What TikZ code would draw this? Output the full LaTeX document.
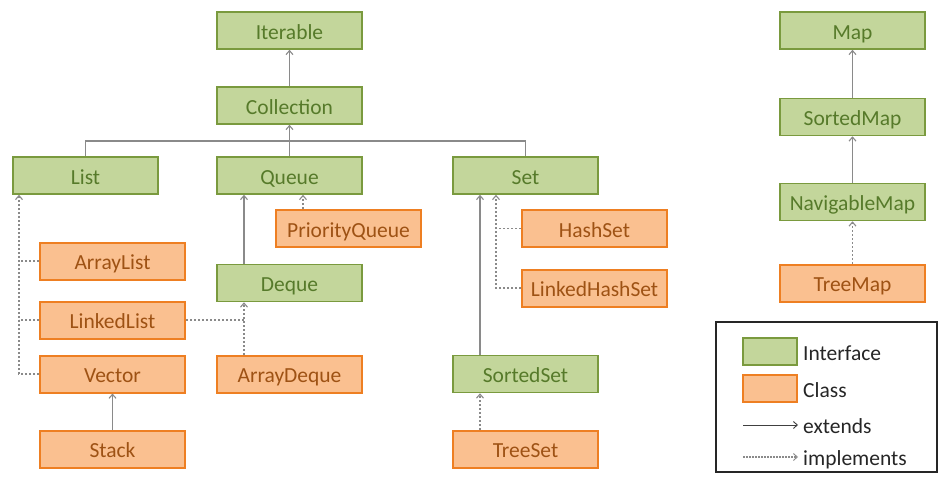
\documentclass[tikz,border=0pt]{standalone}
\usepackage{fontspec}
\setmainfont{Carlito}
\usetikzlibrary{arrows.meta}
\definecolor{ifill}{HTML}{C3D69B}
\definecolor{idraw}{HTML}{7A9A3E}
\definecolor{itext}{HTML}{567A2A}
\definecolor{cfill}{HTML}{FAC090}
\definecolor{cdraw}{HTML}{EE7F22}
\definecolor{ctext}{HTML}{9E5214}
\definecolor{lgray}{HTML}{8A8A8A}
\tikzset{
  base/.style={rectangle, minimum width=145pt, minimum height=37pt, inner sep=0pt,
    text height=18.5pt, text depth=1.5pt,
    font=\fontsize{21.5}{25}\selectfont},
  iface/.style={base, fill=ifill, draw=idraw, line width=1.6pt, text=itext},
  cls/.style={base, fill=cfill, draw=cdraw, line width=2pt, text=ctext},
  ext/.style={draw=lgray, line width=1.4pt, -{Straight Barb[length=4pt,width=7pt,line width=1.1pt]}},
  impl/.style={draw=lgray, line width=1.4pt, dash pattern=on 2pt off 2pt, -{Straight Barb[length=4pt,width=7pt,line width=1.1pt]}},
  plain/.style={draw=lgray, line width=1.4pt},
  implplain/.style={draw=lgray, line width=1.4pt, dash pattern=on 2pt off 2pt},
  legtext/.style={anchor=west, inner sep=0pt, text height=18.5pt, text depth=1.5pt,
    font=\fontsize{21.5}{25}\selectfont, text=black!85},
  legbox/.style={rectangle, minimum width=54pt, minimum height=27pt, inner sep=0pt}
}
\begin{document}
\begin{tikzpicture}[x=1pt,y=-1pt]
\useasboundingbox (0,0) rectangle (952,477);
\fill[white] (0,0) rectangle (952,477);
% nodes
\node[iface] (Iterable) at (289.5,30.5) {Iterable};
\node[iface] (Collection) at (289.5,105.5) {Collection};
\node[iface] (List) at (85.5,175.5) {List};
\node[iface] (Queue) at (289.5,175.5) {Queue};
\node[iface] (Set) at (525.5,175.5) {Set};
\node[cls] (PriorityQueue) at (348.5,228.5) {PriorityQueue};
\node[cls] (ArrayList) at (112.5,261) {ArrayList};
\node[iface] (Deque) at (289.5,283) {Deque};
\node[cls] (LinkedList) at (112.5,320) {LinkedList};
\node[cls] (Vector) at (112.5,374) {Vector};
\node[cls] (ArrayDeque) at (289.5,374) {ArrayDeque};
\node[cls] (Stack) at (112.5,449) {Stack};
\node[cls] (HashSet) at (594.5,228.5) {HashSet};
\node[cls] (LinkedHashSet) at (594.5,288) {LinkedHashSet};
\node[iface] (SortedSet) at (525.5,374) {SortedSet};
\node[cls] (TreeSet) at (525.5,449) {TreeSet};
\node[iface] (Map) at (852.5,30.5) {Map};
\node[iface] (SortedMap) at (852.5,117) {SortedMap};
\node[iface] (NavigableMap) at (852.5,202) {NavigableMap};
\node[cls] (TreeMap) at (852.5,283) {TreeMap};
% helper coordinates
\coordinate (bus) at (289.5,141);
\coordinate (pqtop) at ([xshift=-45.5pt]PriorityQueue.north);
\coordinate (dqtop) at ([xshift=-45.5pt]Deque.north);
\coordinate (adqtop) at ([xshift=-45.5pt]ArrayDeque.north);
\coordinate (listbot) at ([xshift=-66.5pt]List.south);
\coordinate (sstop) at ([xshift=-45.5pt]SortedSet.north);
\coordinate (tstop) at ([xshift=-45.5pt]TreeSet.north);
\coordinate (setbot) at ([xshift=-29.5pt]Set.south);
% connectors
\draw[ext] (Collection.north) -- (Iterable.south);
\draw[ext] (Queue.north) -- (Collection.south);
\draw[plain] (List.north) |- (bus) -| (Set.north);
\draw[impl] (pqtop) -- (pqtop |- Queue.south);
\draw[ext] (dqtop) -- (dqtop |- Queue.south);
\draw[impl] (adqtop) -- (adqtop |- Deque.south);
\draw[implplain] (LinkedList.east) -- (LinkedList.east -| adqtop);
\draw[impl] (Vector.west) -| (listbot);
\draw[implplain] (ArrayList.west) -- (ArrayList.west -| listbot);
\draw[implplain] (LinkedList.west) -- (LinkedList.west -| listbot);
\draw[ext] (Stack.north) -- (Vector.south);
\draw[ext] (sstop) -- (sstop |- Set.south);
\draw[impl] (LinkedHashSet.west) -| (setbot);
\draw[implplain] (HashSet.west) -- (HashSet.west -| setbot);
\draw[impl] (tstop) -- (tstop |- SortedSet.south);
\draw[ext] (SortedMap.north) -- (Map.south);
\draw[ext] (NavigableMap.north) -- (SortedMap.south);
\draw[impl] (TreeMap.north) -- (NavigableMap.south);
% legend
\node[draw=black!85, line width=2pt, rectangle, minimum width=221pt, minimum height=150pt, inner sep=0pt] (legend) at (826.5,397) {};
\node[legbox, fill=ifill, draw=idraw, line width=1.6pt] (lgi) at (770,351.5) {};
\node[legtext] (lti) at (803,351.5) {Interface};
\node[legbox, fill=cfill, draw=cdraw, line width=2pt] (lgc) at (770,388.5) {};
\node[legtext] (ltc) at (803,388.5) {Class};
\coordinate (le1) at (743,425);
\coordinate (le2) at (798,425);
\node[legtext] (lte) at (803,425) {extends};
\draw[draw=black!75, line width=1pt, -{Straight Barb[length=4pt,width=7pt,line width=0.9pt]}] (le1) -- (le2);
\coordinate (li1) at (743,457);
\coordinate (li2) at (798,457);
\node[legtext] (ltm) at (803,457) {implements};
\draw[draw=lgray, line width=1.2pt, dash pattern=on 1.5pt off 1.5pt, -{Straight Barb[length=4pt,width=7pt,line width=0.9pt]}] (li1) -- (li2);
\end{tikzpicture}
\end{document}
